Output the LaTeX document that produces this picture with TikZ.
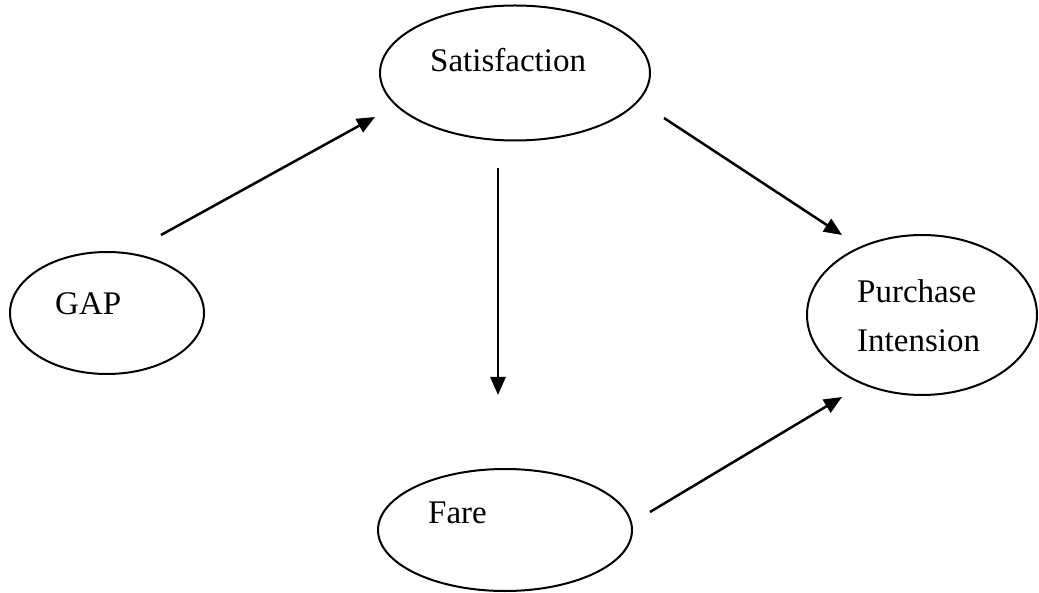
\documentclass[tikz,border=0pt]{standalone}
\usepackage{fontspec}
\setmainfont{Liberation Serif}
\usetikzlibrary{arrows.meta,shapes.geometric}
\begin{document}
\begin{tikzpicture}[x=1pt,y=-1pt,
  oval/.style={draw=black, line width=2pt, ellipse, inner sep=0pt},
  lbl/.style={anchor=base west, inner sep=0pt, font=\fontsize{33}{49}\selectfont},
  link/.style={line width=2.5pt, -{Triangle[length=18pt,width=15pt]}}]
\useasboundingbox (0,0) rectangle (1039,593);
\clip (0,0) rectangle (1039,593);

% constructs
\node[oval, minimum width=270pt, minimum height=135pt] (sat) at (515,73) {};
\node[oval, minimum width=194pt, minimum height=122pt] (gap) at (107,313) {};
\node[oval, minimum width=230pt, minimum height=160pt] (pint) at (922,315) {};
\node[oval, minimum width=254pt, minimum height=122pt] (fare) at (505,530) {};

% labels
\node[lbl] (satT) at (430,72) {Satisfaction};
\node[lbl] (gapT) at (55,315) {GAP};
\node[lbl] (pintT) at (857,303) {Purchase};
\node[lbl] (pintT2) at (857,352) {Intension};
\node[lbl] (fareT) at (428,523) {Fare};

% arrow end points
\coordinate (gapOut) at (161,235);
\coordinate (satIn) at (375,117);
\coordinate (satOutR) at (664,118);
\coordinate (pintInT) at (842,235);
\coordinate (satOutB) at (498,168);
\coordinate (fareIn) at (498,395);
\coordinate (fareOut) at (650,512);
\coordinate (pintInB) at (842,397);

% paths
\draw[link] (gapOut) -- (satIn);
\draw[link] (satOutR) -- (pintInT);
\draw[link] (satOutB) -- (fareIn);
\draw[link] (fareOut) -- (pintInB);
\end{tikzpicture}
\end{document}
